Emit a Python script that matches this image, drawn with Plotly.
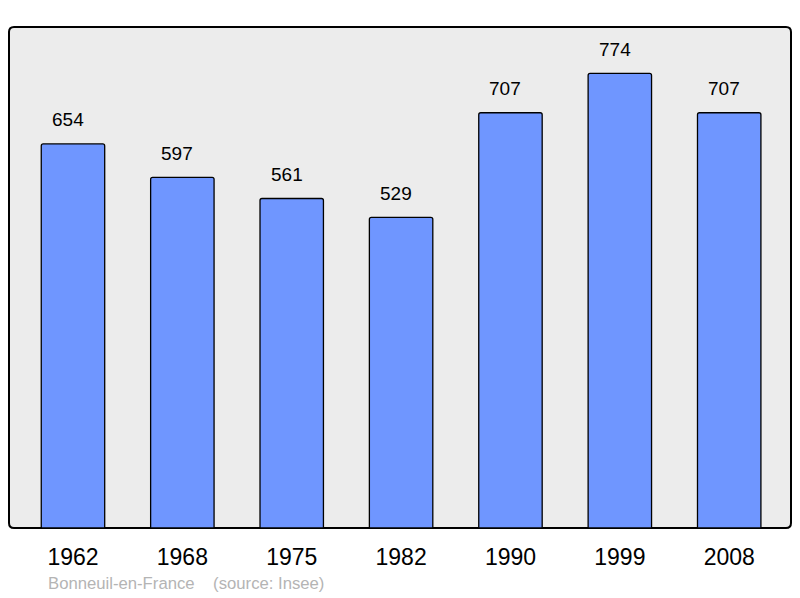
import plotly.graph_objects as go

years = ["1962", "1968", "1975", "1982", "1990", "1999", "2008"]
population = [654, 597, 561, 529, 707, 774, 707]
source_text = "Bonneuil-en-France\u00a0\u00a0\u00a0\u00a0(source: Insee)"

W, H = 800, 598
ml, mr, mt, mb = 9, 9, 27, 70
pw, ph = W - ml - mr, H - mt - mb

FONT = "Liberation Sans, Arial, sans-serif"

fig = go.Figure()
fig.add_trace(go.Bar(
    x=list(range(len(years))), y=population,
    width=0.58,
    marker=dict(color="#6f96ff", line=dict(color="#000000", width=1.3), cornerradius=2),
    hoverinfo="skip",
))

for i, v in enumerate(population):
    fig.add_annotation(x=i, y=v, text=str(v), showarrow=False, yanchor="middle",
                       yshift=24, xshift=-5, font=dict(size=19, color="#000000", family=FONT))

fig.add_annotation(xref="paper", yref="paper", x=(46 - ml) / pw, y=-(583 - (H - mb)) / ph,
                   xanchor="left", yanchor="middle", showarrow=False, text=source_text,
                   font=dict(size=16.7, color="#b4b4b4", family=FONT))

# rounded border
rx, ry = 5 / pw, 5 / ph
path = (f"M {rx},0 L {1-rx},0 Q 1,0 1,{ry} L 1,{1-ry} Q 1,1 {1-rx},1 "
        f"L {rx},1 Q 0,1 0,{1-ry} L 0,{ry} Q 0,0 {rx},0 Z")
fig.add_shape(type="path", xref="paper", yref="paper", path=path,
              fillcolor="#ececec", line=dict(color="#000000", width=2), layer="below")

fig.update_layout(
    width=W, height=H,
    margin=dict(l=ml, r=mr, t=mt, b=mb),
    paper_bgcolor="#ffffff", plot_bgcolor="rgba(0,0,0,0)",
    showlegend=False,
    font=dict(family=FONT),
    xaxis=dict(range=[-0.585, 6.565], tickmode="array", tickvals=list(range(len(years))),
               ticktext=years, showgrid=False, zeroline=False, showline=False,
               tickfont=dict(size=23, color="#000000"), ticks="", ticklabelstandoff=13,
               fixedrange=True),
    yaxis=dict(range=[0, 853], showgrid=False, zeroline=False, showline=False,
               showticklabels=False, ticks="", fixedrange=True),
)

fig.write_html("out.html", config={"displayModeBar": False},
               post_script="document.body.style.margin='0';document.body.style.overflow='hidden';")
